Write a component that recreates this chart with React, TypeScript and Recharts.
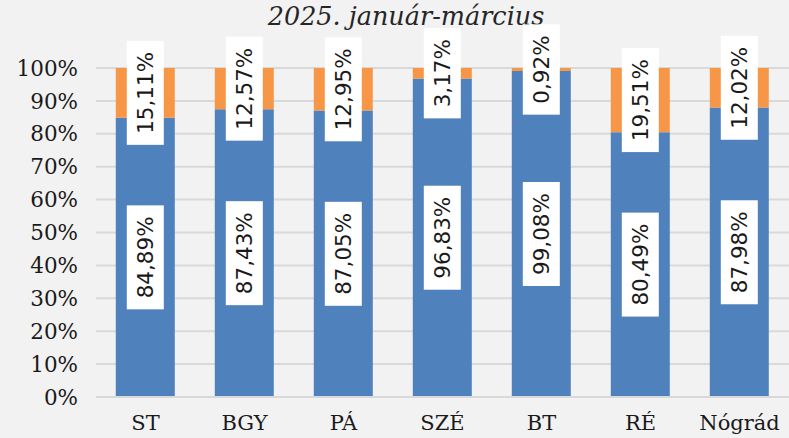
import { BarChart, Bar, XAxis, YAxis, CartesianGrid, LabelList } from 'recharts';

const regions = ['ST', 'BGY', 'PÁ', 'SZÉ', 'BT', 'RÉ', 'Nógrád'];
const blueShare = [84.89, 87.43, 87.05, 96.83, 99.08, 80.49, 87.98];
const orangeShare = [15.11, 12.57, 12.95, 3.17, 0.92, 19.51, 12.02];
const yTicks = [0, 10, 20, 30, 40, 50, 60, 70, 80, 90, 100];

const data = regions.map((r, i) => ({ name: r, blue: blueShare[i], orange: orangeShare[i] }));

const LABEL_FONT = '21.5px "DejaVu Sans"';
let ctx: CanvasRenderingContext2D | null = null;
function measure(s: string) {
  if (!ctx) ctx = document.createElement('canvas').getContext('2d');
  if (!ctx) return s.length * 12;
  ctx.font = LABEL_FONT;
  return ctx.measureText(s).width;
}

const fmt = (v: number) => v.toFixed(2).replace('.', ',') + '%';

function BoxLabel(props: any) {
  const { x, y, width, height, value } = props;
  const cx = Number(x) + Number(width) / 2;
  const cy = Number(y) + Number(height) / 2;
  const txt = fmt(Number(value));
  const len = measure(txt) + 22;
  return (
    <g>
      <rect x={cx - 18.5} y={cy - len / 2} width={37} height={len} fill="#ffffff" />
      <text
        x={cx}
        y={cy}
        transform={`rotate(-90 ${cx} ${cy})`}
        textAnchor="middle"
        dominantBaseline="central"
        fontFamily="DejaVu Sans"
        fontSize={21.5}
        fill="#1a1a1a"
      >
        {txt}
      </text>
    </g>
  );
}

export default function App() {
  return (
    <div style={{ position: 'absolute', left: 0, top: 0, width: 789, height: 438, background: '#f2f2f2' }}>
      <div
        style={{
          position: 'absolute',
          left: 0,
          width: 812,
          top: 1,
          textAlign: 'center',
          fontFamily: '"DejaVu Serif"',
          fontStyle: 'italic',
          fontSize: 25.5,
          color: '#262626',
        }}
      >
        2025. január-március
      </div>
      <div style={{ position: 'absolute', left: 0, top: 0 }}>
        <BarChart
          width={789}
          height={438}
          data={data}
          margin={{ top: 68, right: 0, bottom: 0, left: 0 }}
          barCategoryGap="20%"
        >
          <CartesianGrid vertical={false} stroke="#d9d9d9" strokeWidth={2} />
          <XAxis
            dataKey="name"
            height={41}
            tickLine={false}
            axisLine={{ stroke: '#d9d9d9', strokeWidth: 2 }}
            tick={{ fill: '#1a1a1a', fontSize: 21, fontFamily: 'DejaVu Serif' }}
            tickMargin={12}
          />
          <YAxis
            domain={[0, 100]}
            ticks={yTicks}
            tickFormatter={(v: number) => `${v}%`}
            width={96}
            tickLine={false}
            axisLine={false}
            tickMargin={12}
            tick={{ fill: '#1a1a1a', fontSize: 21.5, fontFamily: 'DejaVu Serif' }}
          />
          <Bar dataKey="blue" stackId="a" fill="#4f81bd" isAnimationActive={false}>
            <LabelList dataKey="blue" content={BoxLabel} />
          </Bar>
          <Bar dataKey="orange" stackId="a" fill="#f79646" isAnimationActive={false}>
            <LabelList dataKey="orange" content={BoxLabel} />
          </Bar>
        </BarChart>
      </div>
    </div>
  );
}
